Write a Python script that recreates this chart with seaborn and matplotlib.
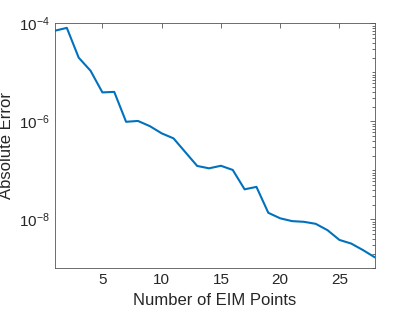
import matplotlib
matplotlib.use("Agg")
import matplotlib.pyplot as plt
import seaborn as sns
import numpy as np
import pandas as pd
from matplotlib.ticker import FixedLocator, NullFormatter

n_points = list(range(1, 29))
abs_error = [7.1e-5, 8.1e-5, 2.0e-5, 1.08e-5, 3.9e-6, 4.0e-6, 9.8e-7, 1.02e-6,
             8.0e-7, 5.7e-7, 4.5e-7, 2.35e-7, 1.23e-7, 1.1e-7, 1.24e-7, 1.02e-7,
             4.1e-8, 4.6e-8, 1.36e-8, 1.05e-8, 9.2e-9, 8.9e-9, 8.1e-9, 6.0e-9,
             3.8e-9, 3.2e-9, 2.35e-9, 1.67e-9]
x_ticks = [5, 10, 15, 20, 25]
y_ticks = [1e-8, 1e-6, 1e-4]

sns.set_style("white")
plt.rcParams['font.family'] = ['Liberation Sans', 'DejaVu Sans']
plt.rcParams['mathtext.fontset'] = 'custom'
plt.rcParams['mathtext.rm'] = 'Liberation Sans'
plt.rcParams['mathtext.it'] = 'Liberation Sans'

df = pd.DataFrame({"n": n_points, "err": abs_error})

fig = plt.figure(figsize=(4.15, 3.12), dpi=100)
ax = fig.add_axes([0.1325, 0.14, 0.771, 0.785])
sns.lineplot(data=df, x="n", y="err", ax=ax, color="#0072BD", linewidth=1.5)
ax.set_yscale("log")
ax.set_xlim(1, 28)
ax.set_ylim(1e-9, 1e-4)
ax.set_xticks(x_ticks)
ax.set_yticks(y_ticks)
ax.set_yticklabels([r"$10^{-8}$", r"$10^{-6}$", r"$10^{-4}$"])
minor = [m * 10.0**k for k in range(-9, -4) for m in range(1, 10)]
minor = [v for v in minor if v not in y_ticks and 1e-9 <= v <= 1e-4]
ax.yaxis.set_minor_locator(FixedLocator(minor))
ax.yaxis.set_minor_formatter(NullFormatter())

grey = "#262626"
for s in ax.spines.values():
    s.set_color("#555555")
    s.set_linewidth(0.6)
ax.tick_params(which="both", direction="in", top=True, right=True,
               color="#555555", labelcolor=grey, width=0.6, labelsize=11)
ax.tick_params(which="major", length=3.5)
ax.tick_params(which="minor", length=2)
ax.set_xlabel("Number of EIM Points", fontsize=12, color=grey)
ax.set_ylabel("Absolute Error", fontsize=12, color=grey)

plt.savefig("out.png", dpi=100)
